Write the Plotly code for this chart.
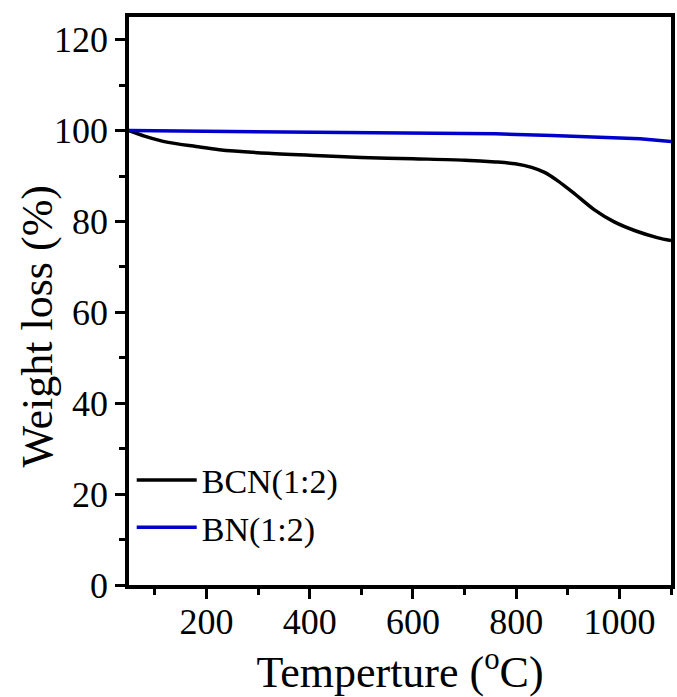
import plotly.graph_objects as go

temp_bcn = [50, 80, 126, 180, 225, 320, 410, 500, 600, 700, 760, 798, 830, 855, 880, 910, 951, 990, 1032, 1075, 1100]
wt_bcn = [100.0, 98.8, 97.4, 96.5, 95.8, 95.0, 94.5, 94.1, 93.8, 93.5, 93.1, 92.7, 91.9, 90.8, 89.0, 86.4, 82.6, 79.9, 77.9, 76.4, 75.8]

temp_bn = [50, 150, 283, 400, 500, 600, 700, 760, 870, 960, 1040, 1100]
wt_bn = [100.0, 99.9, 99.8, 99.6, 99.5, 99.4, 99.35, 99.3, 98.9, 98.5, 98.2, 97.6]

x_range = [50, 1100]
y_range = [0, 125]
font_name = "Liberation Serif"

fig = go.Figure()
fig.add_trace(go.Scatter(x=temp_bcn, y=wt_bcn, mode="lines", name="BCN(1:2)",
                         line=dict(color="black", width=3.5, shape="spline", smoothing=0.8)))
fig.add_trace(go.Scatter(x=temp_bn, y=wt_bn, mode="lines", name="BN(1:2)",
                         line=dict(color="#0000CC", width=3.5)))

axis_common = dict(showline=True, linecolor="black", linewidth=3.5, mirror=True,
                   ticks="outside", ticklen=10, tickwidth=3, tickcolor="black",
                   showgrid=False, zeroline=False,
                   tickfont=dict(family=font_name, size=36, color="black"))

fig.update_xaxes(range=x_range, tick0=0, dtick=200, ticklabelstandoff=-8,
                 minor=dict(ticks="outside", ticklen=6, tickwidth=3, dtick=100, tick0=0, tickcolor="black"),
                 title=dict(text="Temperture (<sup>o</sup>C)", font=dict(family=font_name, size=44, color="black"), standoff=6),
                 **axis_common)
fig.update_yaxes(range=y_range, tick0=0, dtick=20,
                 minor=dict(ticks="outside", ticklen=6, tickwidth=3, dtick=10, tick0=0, tickcolor="black"),
                 **axis_common)

fig.add_annotation(text="Weight loss (%)", xref="paper", yref="paper", x=-0.167, y=0.456,
                   xanchor="center", yanchor="middle", textangle=-90, showarrow=False,
                   font=dict(family=font_name, size=44, color="black"))

fig.update_layout(width=677, height=697, margin=dict(l=129, r=2, t=17, b=112),
                  paper_bgcolor="white", plot_bgcolor="white",
                  legend=dict(x=0.005, y=0.235, xanchor="left", yanchor="top",
                              font=dict(family=font_name, size=34, color="black"),
                              bgcolor="rgba(0,0,0,0)", tracegroupgap=0, itemwidth=60))

fig.write_html("out.html")
